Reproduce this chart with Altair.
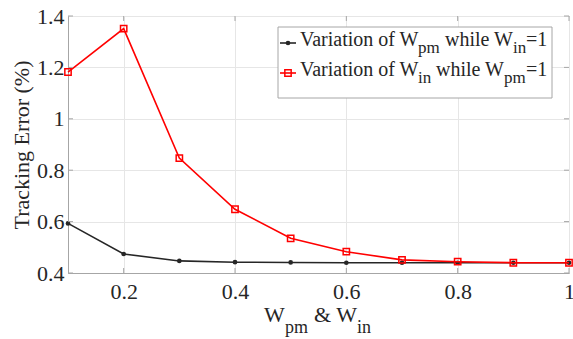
import altair as alt
import pandas as pd

# ---- data ----
weights = [0.1, 0.2, 0.3, 0.4, 0.5, 0.6, 0.7, 0.8, 0.9, 1.0]
err_vary_wpm = [0.593, 0.474, 0.447, 0.442, 0.441, 0.440, 0.440, 0.440, 0.440, 0.440]
err_vary_win = [1.182, 1.351, 0.847, 0.648, 0.535, 0.483, 0.451, 0.444, 0.440, 0.440]
x_ticks = [0.2, 0.4, 0.6, 0.8, 1.0]
y_ticks = [0.4, 0.6, 0.8, 1.0, 1.2, 1.4]

FONT = "Liberation Serif"
BLACK = "#262626"
RED = "#ff0000"
AXIS_GRAY = "#a6a6a6"

df = pd.DataFrame({
    "w": weights * 2,
    "err": err_vary_wpm + err_vary_win,
    "series": ["pm"] * len(weights) + ["in"] * len(weights),
})

W, H = 501, 257

xs = alt.Scale(domain=[0.1, 1.0], nice=False, zero=False)
ys = alt.Scale(domain=[0.4, 1.4], nice=False, zero=False)

x_axis = alt.Axis(values=x_ticks, format="~g", title=None, grid=True,
                  gridColor="#e6e6e6", domainColor=AXIS_GRAY, tickSize=0,
                  labelFont=FONT, labelFontSize=22, labelColor=BLACK,
                  labelPadding=8, labelFlush=False)
y_axis = alt.Axis(values=y_ticks, format="~g", title="Tracking Error (%)", grid=True,
                  gridColor="#e6e6e6", domainColor=AXIS_GRAY, tickSize=0,
                  labelFont=FONT, labelFontSize=22, labelColor=BLACK,
                  labelPadding=4, labelFlush=False,
                  titleFont=FONT, titleFontSize=22, titleFontWeight="normal",
                  titleColor=BLACK, titlePadding=3)

base = alt.Chart(df)

line_pm = base.transform_filter("datum.series == 'pm'").mark_line(
    color=BLACK, strokeWidth=1.6).encode(
    x=alt.X("w:Q", scale=xs, axis=x_axis), y=alt.Y("err:Q", scale=ys, axis=y_axis))
pts_pm = base.transform_filter("datum.series == 'pm'").mark_point(
    shape="circle", filled=True, color=BLACK, size=22, opacity=1).encode(
    x=alt.X("w:Q", scale=xs), y=alt.Y("err:Q", scale=ys))
line_in = base.transform_filter("datum.series == 'in'").mark_line(
    color=RED, strokeWidth=1.6).encode(
    x=alt.X("w:Q", scale=xs), y=alt.Y("err:Q", scale=ys))
pts_in = base.transform_filter("datum.series == 'in'").mark_point(
    shape="square", filled=False, color=RED, size=40, strokeWidth=1.5, opacity=1).encode(
    x=alt.X("w:Q", scale=xs), y=alt.Y("err:Q", scale=ys))

# ---- inward ticks on all four sides (MATLAB box style) ----
xt_df = pd.DataFrame({"w": x_ticks})
yt_df = pd.DataFrame({"err": y_ticks})
TL = 5
tick_b = alt.Chart(xt_df).mark_rule(color=AXIS_GRAY, strokeWidth=1).encode(
    x=alt.X("w:Q", scale=xs), y=alt.value(H), y2=alt.value(H - TL))
tick_t = alt.Chart(xt_df).mark_rule(color=AXIS_GRAY, strokeWidth=1).encode(
    x=alt.X("w:Q", scale=xs), y=alt.value(0), y2=alt.value(TL))
tick_l = alt.Chart(yt_df).mark_rule(color=AXIS_GRAY, strokeWidth=1).encode(
    y=alt.Y("err:Q", scale=ys), x=alt.value(0), x2=alt.value(TL))
tick_r = alt.Chart(yt_df).mark_rule(color=AXIS_GRAY, strokeWidth=1).encode(
    y=alt.Y("err:Q", scale=ys), x=alt.value(W), x2=alt.value(W - TL))

# ---- legend (layout in pixels relative to plot area) ----
box = alt.Chart(alt.Data(values=[{}])).mark_rect(
    fill="white", stroke=AXIS_GRAY, strokeWidth=1).encode(
    x=alt.value(210), x2=alt.value(484), y=alt.value(11), y2=alt.value(82))

leg_lines = pd.DataFrame({
    "x1": [212, 212], "x2": [228, 228], "y": [27, 57], "c": [BLACK, RED]})
sym_lines = alt.Chart(leg_lines).mark_rule(strokeWidth=1.6).encode(
    x=alt.X("x1:Q", scale=None), x2="x2:Q", y=alt.Y("y:Q", scale=None),
    color=alt.Color("c:N", scale=None))
sym_pm = alt.Chart(alt.Data(values=[{}])).mark_point(
    shape="circle", filled=True, color=BLACK, size=22, opacity=1).encode(
    x=alt.value(220), y=alt.value(27))
sym_in = alt.Chart(alt.Data(values=[{}])).mark_point(
    shape="square", filled=False, color=RED, size=40, strokeWidth=1.5, opacity=1).encode(
    x=alt.value(220), y=alt.value(57))


def text_layer(texts, xs_, ys_, size):
    d = pd.DataFrame({"t": texts, "x": xs_, "y": ys_})
    return alt.Chart(d).mark_text(
        font=FONT, fontSize=size, align="left", baseline="alphabetic", color=BLACK).encode(
        x=alt.X("x:Q", scale=None), y=alt.Y("y:Q", scale=None), text="t:N")


leg_main = text_layer(["Variation of W", "while W", "=1", "Variation of W", "while W", "=1"],
                      [232, 377, 458, 232, 368, 458], [30, 30, 30, 60, 60, 60], 20)
leg_sub = text_layer(["pm", "in", "in", "pm"], [350, 445, 350, 436], [37, 37, 67, 67], 17)
xt_main = text_layer(["W", "& W"], [196, 246], [306, 306], 22)
xt_sub = text_layer(["pm", "in"], [217, 289], [317, 317], 18)

chart = alt.layer(
    line_pm, pts_pm, line_in, pts_in, tick_b, tick_t, tick_l, tick_r,
    box, sym_lines, sym_pm, sym_in, leg_main, leg_sub, xt_main, xt_sub
).properties(
    width=W, height=H,
    background="white",
    autosize=alt.AutoSizeParams(type="none"),
    padding={"left": 68, "top": 16, "right": 4, "bottom": 66},
).configure(font=FONT).configure_view(stroke=AXIS_GRAY, strokeWidth=1)

chart.save("out.html", embed_options={"renderer": "svg", "actions": False})
